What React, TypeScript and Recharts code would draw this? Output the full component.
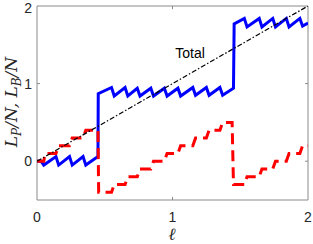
import { LineChart, Line, XAxis, YAxis, ReferenceArea, ReferenceLine, ReferenceDot, Label } from "recharts";

// blue: L_P / N
const lpEll = [0, 0.03, 0.05, 0.14, 0.16, 0.24, 0.26, 0.34, 0.36, 0.45, 0.452,
  0.55, 0.57, 0.65, 0.67, 0.74, 0.76, 0.84, 0.86, 0.94, 0.96, 1.04, 1.06, 1.15, 1.17, 1.25, 1.27, 1.35, 1.37, 1.45, 1.455,
  1.53, 1.55, 1.64, 1.66, 1.74, 1.76, 1.84, 1.86, 1.94, 1.96, 2.0];
const lpVal = [0, 0.0, -0.05, 0.06, -0.05, 0.06, -0.05, 0.06, -0.05, 0.06, 0.87,
  0.95, 0.84, 0.95, 0.84, 0.94, 0.84, 0.94, 0.84, 0.94, 0.84, 0.94, 0.84, 0.95, 0.85, 0.95, 0.85, 0.95, 0.85, 0.94, 1.77,
  1.84, 1.73, 1.84, 1.73, 1.84, 1.73, 1.84, 1.73, 1.84, 1.74, 1.78];

// red: L_B / N
const lbEll = [0, 0.05, 0.06, 0.14, 0.16, 0.24, 0.26, 0.34, 0.36, 0.45, 0.455,
  0.55, 0.57, 0.65, 0.67, 0.74, 0.76, 0.84, 0.86, 0.94, 0.96, 1.04, 1.06, 1.15, 1.17, 1.25, 1.27, 1.35, 1.37, 1.44, 1.45,
  1.53, 1.55, 1.64, 1.66, 1.74, 1.76, 1.84, 1.86, 1.94, 1.96, 2.0];
const lbVal = [0, 0, 0.1, 0.1, 0.2, 0.2, 0.3, 0.3, 0.4, 0.4, -0.4,
  -0.4, -0.3, -0.3, -0.2, -0.2, -0.1, -0.1, 0.0, 0.0, 0.1, 0.1, 0.2, 0.2, 0.3, 0.3, 0.4, 0.4, 0.5, 0.5, -0.3,
  -0.3, -0.2, -0.2, -0.1, -0.1, 0.0, 0.0, 0.1, 0.1, 0.2, 0.2];

const totalEll = [0, 2];
const totalVal = [0, 2];

const xTicks = [0, 1, 2];
const yTicks = [0, 1, 2];

const toPoints = (xs: number[], ys: number[]) => xs.map((x, i) => ({ x, y: ys[i] }));

const lpData = toPoints(lpEll, lpVal);
const lbData = toPoints(lbEll, lbVal);
const totalData = toPoints(totalEll, totalVal);

const FONT = "'Liberation Sans', Arial, sans-serif";
const SERIF = "'DejaVu Serif', 'Liberation Serif', serif";
const AXIS = "#8a8a8a";
const TEXT = "#262626";

const YLabel = () => (
  <text
    transform="translate(17,102) rotate(-90)"
    textAnchor="middle"
    fill={TEXT}
    fontSize={17}
    fontFamily={SERIF}
    fontStyle="italic"
  >
    L<tspan fontSize={12} dy={4}>P</tspan>
    <tspan dy={-4}>/N, L</tspan>
    <tspan fontSize={12} dy={4}>B</tspan>
    <tspan dy={-4}>/N</tspan>
  </text>
);

const XLabel = () => (
  <text x={172} y={240} textAnchor="middle" fill={TEXT} fontSize={17} fontFamily={SERIF} fontStyle="italic">
    ℓ
  </text>
);

export default function App() {
  return (
    <div style={{ position: "absolute", left: 0, top: 0, background: "#fff" }}>
      <LineChart width={313} height={244} margin={{ top: 6, right: 5, left: 0, bottom: 0 }}>
        <XAxis
          type="number"
          dataKey="x"
          domain={[0, 2]}
          ticks={xTicks}
          allowDataOverflow
          axisLine={false}
          tickLine={false}
          tickSize={0}
          tickMargin={12}
          height={44}
          tick={{ fill: TEXT, fontSize: 14, fontFamily: FONT }}
        >
          <Label content={<XLabel />} />
        </XAxis>
        <YAxis
          type="number"
          dataKey="y"
          domain={[-0.5, 2]}
          ticks={yTicks}
          allowDataOverflow
          axisLine={false}
          tickLine={false}
          tickSize={0}
          tickMargin={5}
          width={37}
          tick={{ fill: TEXT, fontSize: 14, fontFamily: FONT }}
        >
          <Label content={<YLabel />} />
        </YAxis>
        <ReferenceArea x1={0} x2={2} y1={-0.5} y2={2} fill="none" stroke={AXIS} strokeWidth={1} />
        <ReferenceLine segment={[{ x: 1, y: -0.5 }, { x: 1, y: -0.46 }]} stroke={AXIS} />
        <ReferenceLine segment={[{ x: 1, y: 2 }, { x: 1, y: 1.96 }]} stroke={AXIS} />
        <ReferenceLine segment={[{ x: 0, y: 0 }, { x: 0.022, y: 0 }]} stroke={AXIS} />
        <ReferenceLine segment={[{ x: 0, y: 1 }, { x: 0.022, y: 1 }]} stroke={AXIS} />
        <ReferenceLine segment={[{ x: 2, y: 0 }, { x: 1.978, y: 0 }]} stroke={AXIS} />
        <ReferenceLine segment={[{ x: 2, y: 1 }, { x: 1.978, y: 1 }]} stroke={AXIS} />
        <Line
          data={lpData}
          dataKey="y"
          type="linear"
          stroke="#0000ff"
          strokeWidth={3}
          dot={false}
          activeDot={false}
          isAnimationActive={false}
        />
        <Line
          data={lbData}
          dataKey="y"
          type="linear"
          stroke="#ff0000"
          strokeWidth={3}
          strokeDasharray="11 6"
          dot={false}
          activeDot={false}
          isAnimationActive={false}
        />
        <Line
          data={totalData}
          dataKey="y"
          type="linear"
          stroke="#000"
          strokeWidth={1.2}
          strokeDasharray="5 2 1.5 2"
          dot={false}
          activeDot={false}
          isAnimationActive={false}
        />
        <ReferenceDot
          x={1.13}
          y={1.39}
          r={1}
          fill="none"
          stroke="none"
          label={{ value: "Total", position: "center", fill: "#000", fontSize: 14, fontFamily: FONT }}
        />
      </LineChart>
    </div>
  );
}
